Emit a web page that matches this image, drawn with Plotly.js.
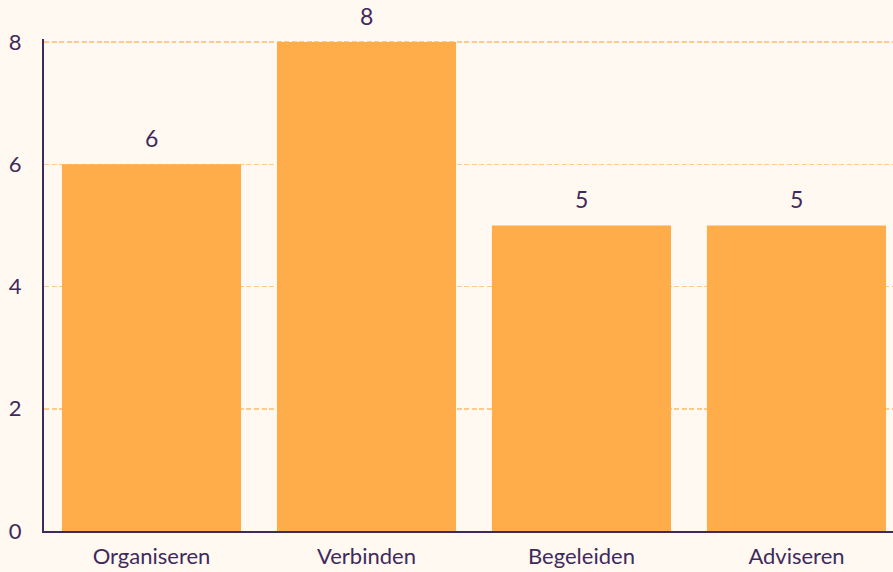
<!DOCTYPE html>
<html><head><meta charset="utf-8">
<script src="https://cdn.plot.ly/plotly-3.0.1.min.js"></script>
<style>html,body{margin:0;padding:0;background:#FFF9F2;}</style>
</head><body>
<div id="chart" style="width:893px;height:572px;"></div>
<script>
const categories = ["Organiseren", "Verbinden", "Begeleiden", "Adviseren"];
const values = [6, 8, 5, 5];
const yTicks = [0, 2, 4, 6, 8];

const textColor = "#3F2A5C";
const fontFam = "Lato, sans-serif";
Plotly.newPlot("chart", [{
  type: "bar",
  x: categories,
  y: values,
  marker: {color: "#FFAD4A", line: {width: 0}},
  hoverinfo: "none"
}], {
  width: 893, height: 572,
  margin: {l: 44, r: 0, t: 39, b: 41},
  paper_bgcolor: "#FFF9F2",
  plot_bgcolor: "#FFF9F2",
  bargap: 0.167,
  showlegend: false,
  font: {family: fontFam, size: 22, color: textColor},
  annotations: categories.map((c, i) => ({
    x: c, y: values[i], xref: "x", yref: "y",
    text: String(values[i]), showarrow: false,
    yanchor: "bottom", yshift: 10,
    font: {family: fontFam, size: 23, color: textColor}
  })),
  xaxis: {
    type: "category",
    range: [-0.5, 3.449],
    showline: true, linecolor: textColor, linewidth: 2,
    showgrid: false, ticks: "", zeroline: false,
    ticklabelstandoff: 5,
    tickfont: {family: fontFam, size: 22, color: textColor}
  },
  yaxis: {
    range: [0, 8.05],
    tickvals: yTicks,
    ticktext: yTicks.map(String),
    showline: true, linecolor: textColor, linewidth: 2,
    showgrid: true, gridcolor: "#FFCB8C", griddash: "5px,2.5px", gridwidth: 1.5,
    zeroline: false, ticks: "", ticklabelstandoff: 16,
    tickfont: {family: fontFam, size: 22, color: textColor}
  }
}, {displayModeBar: false, staticPlot: true});
</script>
</body></html>
